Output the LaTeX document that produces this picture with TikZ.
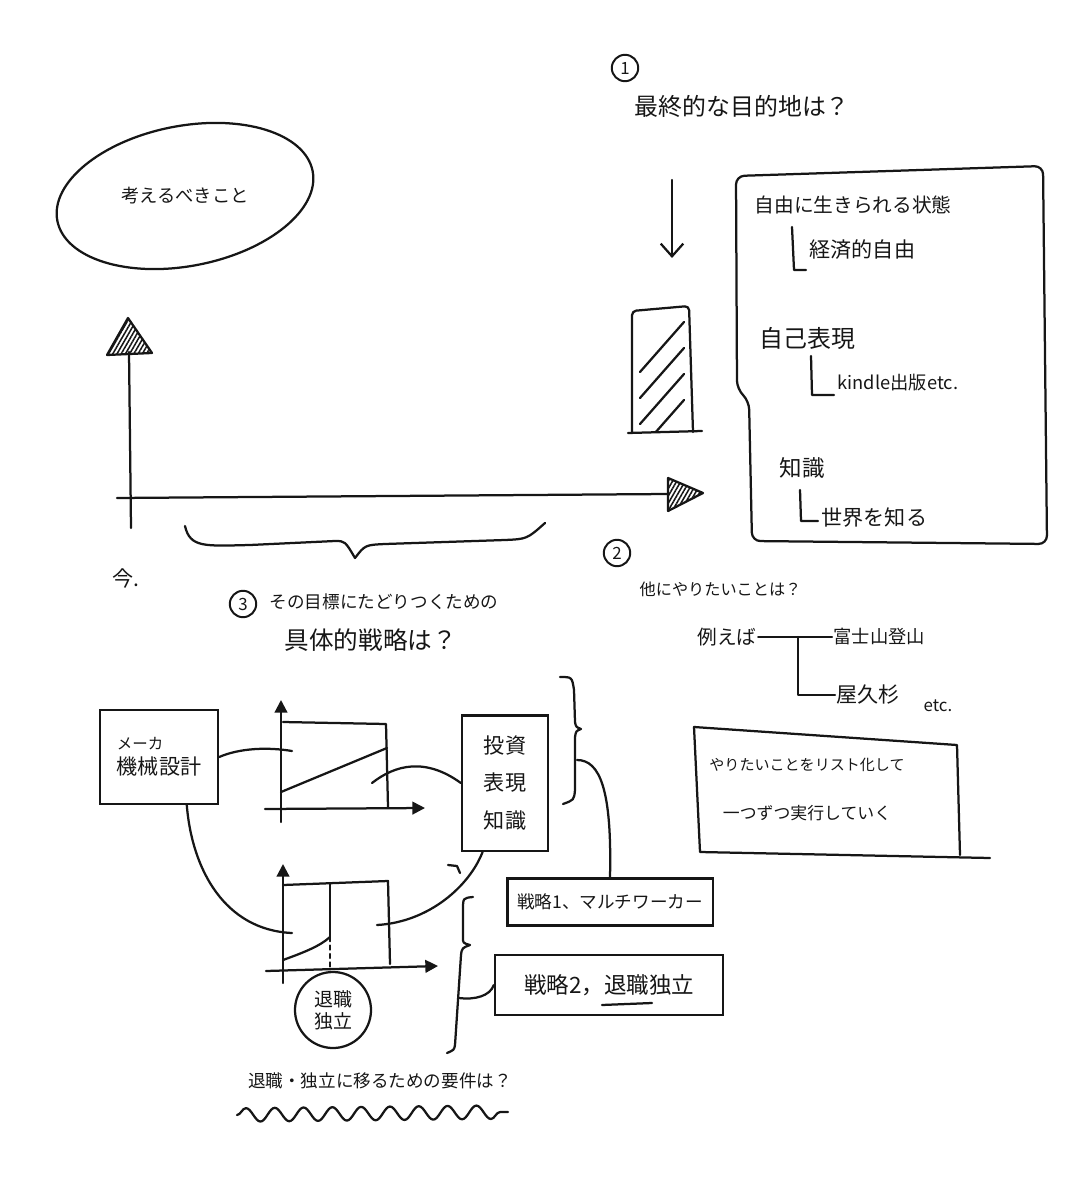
\documentclass[tikz,border=0pt]{standalone}
\usepackage{fontspec}
\setmainfont{Noto Sans CJK JP}
\usepackage{xcolor}
\usepackage{tikz}
\usetikzlibrary{positioning,arrows.meta,calc,patterns.meta,decorations.pathmorphing}
\definecolor{ink}{RGB}{22,22,22}
\newcommand{\fsz}[1]{\fontsize{#1}{#1}\selectfont}
\tikzset{
  pen/.style={ink,line width=1.6pt,line cap=round,line join=round},
  memo/.style={ink,inner sep=1pt},
  numring/.style={draw,circle,ink,line width=1.4pt,minimum size=0.66cm,inner sep=0pt,font=\fsz{12}},
  sketchbox/.style={draw,ink,line width=1.6pt,inner sep=2pt},
  hatch/.style={pattern={Lines[angle=60,distance=2.6pt,line width=1.1pt]},pattern color=ink},
  tip/.style={-{Triangle[length=9pt,width=9pt]}},
}

\begin{document}
\begin{tikzpicture}[x=0.025cm,y=-0.025cm]
\useasboundingbox (0,0) rectangle (1067,1200);
% thinking bubble
\node[memo,font=\fsz{13}] (think) at (185,196) {考えるべきこと};
\draw[pen,rotate around={11:(think.center)}] (think.center) ellipse [x radius=3.25cm,y radius=1.75cm];

% (1) final goal
\node[numring] (n1) at (625,68) {1};
\node[memo,font=\fsz{17},anchor=west] (goalq) at (633,106) {最終的な目的地は？};
\coordinate (downtop) at (672,180);
\coordinate (downend) at (672,258);
\draw[pen,-{Straight Barb[length=9pt,width=16pt]}] (downtop) -- (downend);
\draw[pen,rounded corners=6pt] (736,176) -- (1043,166) -- (1047,544) -- (752,541) -- (749,401) -- (737,389) -- cycle;
\node[memo,font=\fsz{14},anchor=west] (free) at (753,205) {自由に生きられる状態};
\node[memo,font=\fsz{15},anchor=west] (econ) at (808,250) {経済的自由};
\draw[pen] (792,227) -- (794,270) -- (806,270);
\node[memo,font=\fsz{17},anchor=west] (expr) at (758,338) {自己表現};
\node[memo,font=\fsz{13},anchor=west] (kindle) at (836,383) {kindle出版etc.};
\draw[pen] (811,356) -- (812,395) -- (834,395);
\node[memo,font=\fsz{16},anchor=west] (know) at (778,468) {知識};
\node[memo,font=\fsz{15},anchor=west] (world) at (820,518) {世界を知る};
\draw[pen] (800,490) -- (801,521) -- (818,521);

% future bar
\draw[pen,rounded corners=3pt] (632,432) -- (632,311) -- (689,306) -- (693,432);
\draw[pen] (628,433) -- (702,431);
\begin{scope}
\clip (632,432) -- (632,311) -- (689,306) -- (693,432) -- cycle;
\foreach \k in {0,26,52,78}
  \draw[pen] (640,372+\k) -- (684,322+\k);
\end{scope}

% time axes
\draw[pen] (131,528) -- (129,352);
\draw[pen,hatch] (128,318) -- (152,353) -- (107,355) -- cycle;
\draw[pen] (117,498) -- (668,494);
\draw[pen,hatch] (668,478) -- (703,493) -- (668,511) -- cycle;
\draw[pen] (185,526) .. controls (190,548) and (205,546) .. (250,545) -- (335,541)
  .. controls (345,541) .. (355,558) .. controls (365,545) .. (385,544) -- (505,540)
  .. controls (527,539) .. (545,523);
\node[memo,font=\fsz{15}] (now) at (126,578) {今.};

% (2) other wishes
\node[numring] (n2) at (617,553) {2};
\node[memo,font=\fsz{11.5},anchor=west] (otherq) at (638,589) {他にやりたいことは？};
\node[memo,font=\fsz{14}] (ex) at (727,637) {例えば};
\node[memo,font=\fsz{13},anchor=west] (fuji) at (832,637) {富士山登山};
\node[memo,font=\fsz{15},anchor=west] (yaku) at (835,695) {屋久杉};
\node[memo,font=\fsz{12},anchor=west] (etc) at (922,706) {etc.};
\coordinate (fork) at (798,637);
\draw[pen] (ex.east) -- (fuji.west);
\draw[pen] (fork) |- (yaku.west);
\draw[pen] (694,727) -- (957,745) -- (960,855);
\draw[pen] (694,727) -- (700,852) -- (990,858);
\node[memo,font=\fsz{10.7}] (todo1) at (807,765) {やりたいことをリスト化して};
\node[memo,font=\fsz{12}] (todo2) at (807,813) {一つずつ実行していく};

% (3) strategy
\node[numring] (n3) at (243,604) {3};
\node[memo,font=\fsz{12.5},anchor=west] (stratq1) at (268,602) {その目標にたどりつくための};
\node[memo,font=\fsz{17.5},anchor=west] (stratq2) at (283,640) {具体的戦略は？};
\node[sketchbox,minimum width=2.95cm,minimum height=2.35cm,align=left] (mfg) at (159,757)
  {\fsz{11}メーカ\\[4pt]\fsz{15}機械設計};
\node[sketchbox,minimum width=2.15cm,minimum height=3.38cm,align=center,font=\fsz{15}] (inv) at (505,783)
  {投資\\[12pt]表現\\[12pt]知識};
\node[sketchbox,minimum width=5.13cm,minimum height=1.18cm,font=\fsz{12.5}] (s1) at (610,902)
  {戦略1、マルチワーカー};
\node[sketchbox,minimum width=5.7cm,minimum height=1.5cm,font=\fsz{16}] (s2) at (609,985)
  {戦略2，退職独立};
\draw[pen] (602,1005) -- (652,1003);

% graph: side work
\draw[pen,tip] (281,822) -- (281,700);
\draw[pen,tip] (265,809) -- (425,808);
\draw[pen] (283,722) -- (386,724) -- (388,807);
\draw[pen] (281,792) -- (387,748);
\coordinate (g1l) at (292,751);
\coordinate (g1r) at (372,783);
\draw[pen] (mfg.east) .. controls (240,748) and (268,747) .. (g1l);
\draw[pen] (g1r) .. controls (395,765) and (425,757) .. (inv.west);

% graph: going independent
\draw[pen,tip] (283,983) -- (283,864);
\draw[pen,tip] (266,971) -- (438,966);
\draw[pen] (283,885) -- (388,881) -- (390,964);
\draw[pen] (330,884) -- (330,937);
\draw[pen,dashed] (330,937) -- (330,968);
\draw[pen] (283,960) .. controls (305,952) and (320,946) .. (330,937);
\coordinate (g2l) at (292,933);
\coordinate (g2r) at (377,925);
\draw[pen] (mfg.300) .. controls (192,870) and (225,930) .. (g2l);
\draw[pen] (g2r) .. controls (430,922) and (470,885) .. (inv.252);
\node[draw,circle,pen,minimum size=1.9cm,align=center,font=\fsz{13.5}] (quit) at (333,1010) {退職\\[2pt]独立};

% braces
\draw[pen] (560,677) .. controls (572,677) .. (574,690) -- (575,722) .. controls (576,727) .. (581,729)
  .. controls (576,731) .. (575,737) -- (575,790) .. controls (574,800) .. (563,804);
\coordinate (b1) at (577,760);
\draw[pen] (b1) .. controls (600,760) and (612,790) .. (s1.north);
\draw[pen] (473,897) .. controls (463,898) .. (463,910) -- (463,938) .. controls (463,943) .. (470,945)
  .. controls (462,948) .. (461,955) -- (455,1045) .. controls (454,1050) .. (447,1053);
\coordinate (b2) at (459,998);
\draw[pen] (b2) .. controls (475,1000) and (490,996) .. (s2.west);
\draw[pen] (448,865) -- (457,866) -- (460,873);

% requirement question
\node[memo,font=\fsz{12.5}] (reqq) at (380,1081) {退職・独立に移るための要件は？};
\coordinate (wavel) at (237,1115);
\coordinate (waver) at (508,1112);
\draw[pen,decorate,decoration={snake,segment length=0.72cm,amplitude=0.17cm}] (wavel) -- (waver);
\end{tikzpicture}
\end{document}
